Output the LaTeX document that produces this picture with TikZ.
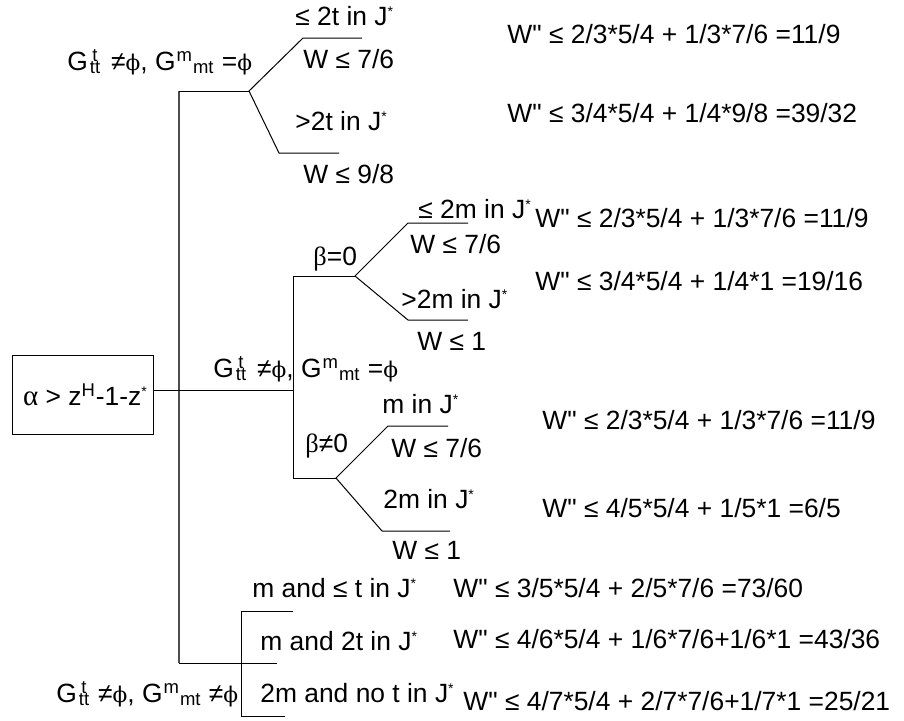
\documentclass[tikz,border=0pt]{standalone}
\usepackage{fontspec}
\setmainfont{Liberation Sans}[Ligatures=TeXOff]
\newfontfamily\grk{Liberation Serif}
\newfontfamily\phfont{DejaVu Serif}[Scale=0.82]
\newcommand{\ph}{{\phfont ϕ}}
\newcommand{\Gtt}{G\kern1pt\rlap{\kern1.2pt\textsuperscript{t}}\textsubscript{tt}}
\newcommand{\Gmt}{G\kern0.5pt\textsuperscript{m}\textsubscript{mt}}
\newcommand{\Js}{J\textsuperscript{\fontsize{7}{7}\selectfont *}}
\tikzset{
  txt/.style={anchor=base west, inner sep=0pt, font=\fontsize{13.2}{15}\selectfont},
  ln/.style={draw=black, line width=0.5pt},
  gln/.style={draw=black!70, line width=0.8pt},
  boxn/.style={draw=black, line width=0.5pt, minimum width=70.5pt, minimum height=39.5pt, inner sep=0pt, font=\fontsize{13.2}{15}\selectfont}
}
\begin{document}
\begin{tikzpicture}[x=0.5pt,y=-0.5pt]
\useasboundingbox (0,0) rectangle (904,720);
% root box
\node[boxn] (root) at (82.5,394.5) {\hspace{3pt}{\grk\fontsize{14.5}{15}\selectfont α} {>} z\textsuperscript{H}-1-z\textsuperscript{\fontsize{7}{7}\selectfont *}};
% coordinates
\coordinate (a0) at (179,91);
\coordinate (a1) at (179,663);
\coordinate (b0) at (249,91);
\coordinate (b1) at (303,38);
\coordinate (b1e) at (362,38);
\coordinate (b2) at (279,153);
\coordinate (b2e) at (339,153);
\coordinate (c0) at (277,663);
\coordinate (d1) at (293,611);
\coordinate (d0) at (241,611);
\coordinate (d2) at (241,716);
\coordinate (d3) at (285,716);
\coordinate (m0) at (293,390);
\coordinate (m1) at (293,276);
\coordinate (m2) at (293,478);
\coordinate (e0) at (355,276);
\coordinate (e1) at (408,223);
\coordinate (e1e) at (468,223);
\coordinate (e2) at (408,320);
\coordinate (e2e) at (468,320);
\coordinate (f0) at (336,478);
\coordinate (f1) at (388,426);
\coordinate (f1e) at (448,426);
\coordinate (f2) at (382,531);
\coordinate (f2e) at (450,531);
% lines
\draw[gln] (a0) -- (a1);
\draw[ln] (a0) -- (b0);
\draw[ln] (b1e) -- (b1) -- (b0) -- (b2) -- (b2e);
\draw[ln] (a1) -- (c0);
\draw[ln] (d1) -- (d0) -- (d2) -- (d3);
\draw[ln] (root.east |- m0) -- (m0);
\draw[ln] (e0) -- (m1) -- (m2) -- (f0);
\draw[ln] (e1e) -- (e1) -- (e0) -- (e2) -- (e2e);
\draw[ln] (f1e) -- (f1) -- (f0) -- (f2) -- (f2e);
% labels
\node[txt] (g1) at (67,70) {\Gtt\hspace{5pt}≠\ph, \Gmt\ =\ph};
\node[txt] (t1) at (295,25) {≤ 2t in \Js};
\node[txt] (t2) at (303,68) {W ≤ 7/6};
\node[txt] (t3) at (295,130) {>2t in \Js};
\node[txt] (t4) at (303,183) {W ≤ 9/8};
\node[txt] (r1) at (507,43) {W" ≤ 2/3*5/4 + 1/3*7/6 =11/9};
\node[txt] (r2) at (507,122) {W" ≤ 3/4*5/4 + 1/4*9/8 =39/32};
\node[txt] (g2) at (213,377) {\Gtt\hspace{5pt}≠\ph, \Gmt\ =\ph};
\node[txt] (beta0) at (313,265) {{\grk β}=0};
\node[txt] (t5) at (418,218) {≤ 2m in \Js};
\node[txt] (t6) at (410,253) {W ≤ 7/6};
\node[txt] (t7) at (401,308) {>2m in \Js};
\node[txt] (t8) at (417,350) {W ≤ 1};
\node[txt] (r3) at (535,227) {W" ≤ 2/3*5/4 + 1/3*7/6 =11/9};
\node[txt] (r4) at (535,290) {W" ≤ 3/4*5/4 + 1/4*1 =19/16};
\node[txt] (betan) at (305,452) {{\grk β}≠0};
\node[txt] (t9) at (382,413) {m in \Js};
\node[txt] (t10) at (391,457) {W ≤ 7/6};
\node[txt] (t11) at (383,508) {2m in \Js};
\node[txt] (t12) at (392,559) {W ≤ 1};
\node[txt] (r5) at (542,429) {W" ≤ 2/3*5/4 + 1/3*7/6 =11/9};
\node[txt] (r6) at (542,517) {W" ≤ 4/5*5/4 + 1/5*1 =6/5};
\node[txt] (t13) at (252,597) {m and ≤ t in \Js};
\node[txt] (r7) at (453,597) {W" ≤ 3/5*5/4 + 2/5*7/6 =73/60};
\node[txt] (t14) at (260,650) {m and 2t in \Js};
\node[txt] (r8) at (453,648) {W" ≤ 4/6*5/4 + 1/6*7/6+1/6*1 =43/36};
\node[txt] (t15) at (260,702) {2m and no t in \Js};
\node[txt] (r9) at (463,710) {W" ≤ 4/7*5/4 + 2/7*7/6+1/7*1 =25/21};
\node[txt] (g3) at (56,702) {\Gtt\hspace{4pt}≠\ph, \Gmt\ ≠\ph};
\end{tikzpicture}
\end{document}
